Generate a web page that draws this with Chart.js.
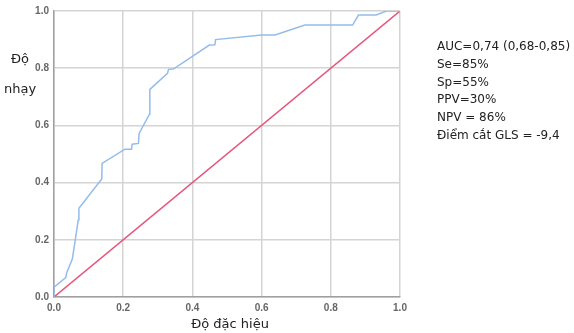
<!DOCTYPE html>
<html>
<head>
<meta charset="utf-8">
<script src="https://cdn.jsdelivr.net/npm/chart.js@4.4.1/dist/chart.umd.min.js"></script>
<style>
  html, body { margin: 0; padding: 0; background: #fff; }
  #wrap { width: 574px; height: 333px; }
</style>
</head>
<body>
<div id="wrap"><canvas id="roc"></canvas></div>
<script>
// ROC curve values (1 - specificity vs sensitivity)
const fpr = [0, 0, 0.034, 0.037, 0.053, 0.058, 0.07, 0.072, 0.138, 0.139, 0.205, 0.224, 0.226,
  0.244, 0.246, 0.276, 0.277, 0.328, 0.331, 0.345, 0.449, 0.465, 0.467, 0.6, 0.639, 0.725,
  0.863, 0.88, 0.931, 0.961, 1];
const sens = [0, 0.034, 0.068, 0.086, 0.133, 0.172, 0.269, 0.31, 0.413, 0.467, 0.517, 0.517, 0.534,
  0.537, 0.572, 0.639, 0.726, 0.782, 0.796, 0.797, 0.881, 0.882, 0.9, 0.916, 0.916, 0.951,
  0.951, 0.986, 0.986, 1, 1];
const refX = [0, 1];
const refY = [0, 1];
const tickValues = [0, 0.2, 0.4, 0.6, 0.8, 1.0];
const xTitle = 'Độ đặc hiệu';
const yTitleLines = ['Độ', 'nhạy'];
const notes = ['AUC=0,74 (0,68-0,85)', 'Se=85%', 'Sp=55%', 'PPV=30%', 'NPV = 86%', 'Điểm cắt GLS = -9,4'];

const textPlugin = {
  id: 'textPlugin',
  afterDraw(chart) {
    const ctx = chart.ctx;
    ctx.save();
    ctx.fillStyle = '#222';
    ctx.textBaseline = 'middle';

    // y axis title, two horizontal lines
    ctx.font = '13px "DejaVu Sans"';
    ctx.textAlign = 'center';
    ctx.fillText(yTitleLines[0], 20, 60);
    ctx.fillText(yTitleLines[1], 20, 90);

    // x axis title
    ctx.fillText(xTitle, 230, 325);

    // annotations on the right
    ctx.font = '12px "DejaVu Sans"';
    ctx.textAlign = 'left';
    notes.forEach((t, i) => ctx.fillText(t, 437, 47 + i * 17.7));
    ctx.restore();
  }
};

const ctx = document.getElementById('roc').getContext('2d');
new Chart(ctx, {
  type: 'scatter',
  data: {
    datasets: [
      {
        data: fpr.map((x, i) => ({ x: x, y: sens[i] })),
        showLine: true,
        borderColor: '#94bcec',
        borderWidth: 1.5,
        pointRadius: 0,
        tension: 0
      },
      {
        data: refX.map((x, i) => ({ x: x, y: refY[i] })),
        showLine: true,
        borderColor: '#e4587c',
        borderWidth: 1.5,
        pointRadius: 0,
        tension: 0
      }
    ]
  },
  options: {
    responsive: true,
    maintainAspectRatio: false,
    animation: false,
    layout: { padding: { left: 0, right: 174, top: 11, bottom: 0 } },
    plugins: { legend: { display: false }, tooltip: { enabled: false } },
    scales: {
      x: {
        type: 'linear',
        min: 0, max: 1,
        afterFit: (s) => { s.height = 36; },
        afterBuildTicks: (s) => { s.ticks = tickValues.map(v => ({ value: v })); },
        grid: { color: '#d4d4d4', lineWidth: 1.5, drawTicks: false },
        border: { color: '#a0a0a0', width: 1.5 },
        ticks: {
          padding: 5,
          color: '#666',
          font: { family: 'Arial', size: 10, weight: 'bold' },
          callback: (v) => v.toFixed(1)
        }
      },
      y: {
        type: 'linear',
        min: 0, max: 1,
        afterFit: (s) => { s.width = 54; },
        afterBuildTicks: (s) => { s.ticks = tickValues.map(v => ({ value: v })); },
        grid: { color: '#d4d4d4', lineWidth: 1.5, drawTicks: false },
        border: { color: '#a0a0a0', width: 1.5 },
        ticks: {
          padding: 5,
          color: '#666',
          font: { family: 'Arial', size: 10, weight: 'bold' },
          callback: (v) => v.toFixed(1)
        }
      }
    }
  },
  plugins: [textPlugin]
});
</script>
</body>
</html>
